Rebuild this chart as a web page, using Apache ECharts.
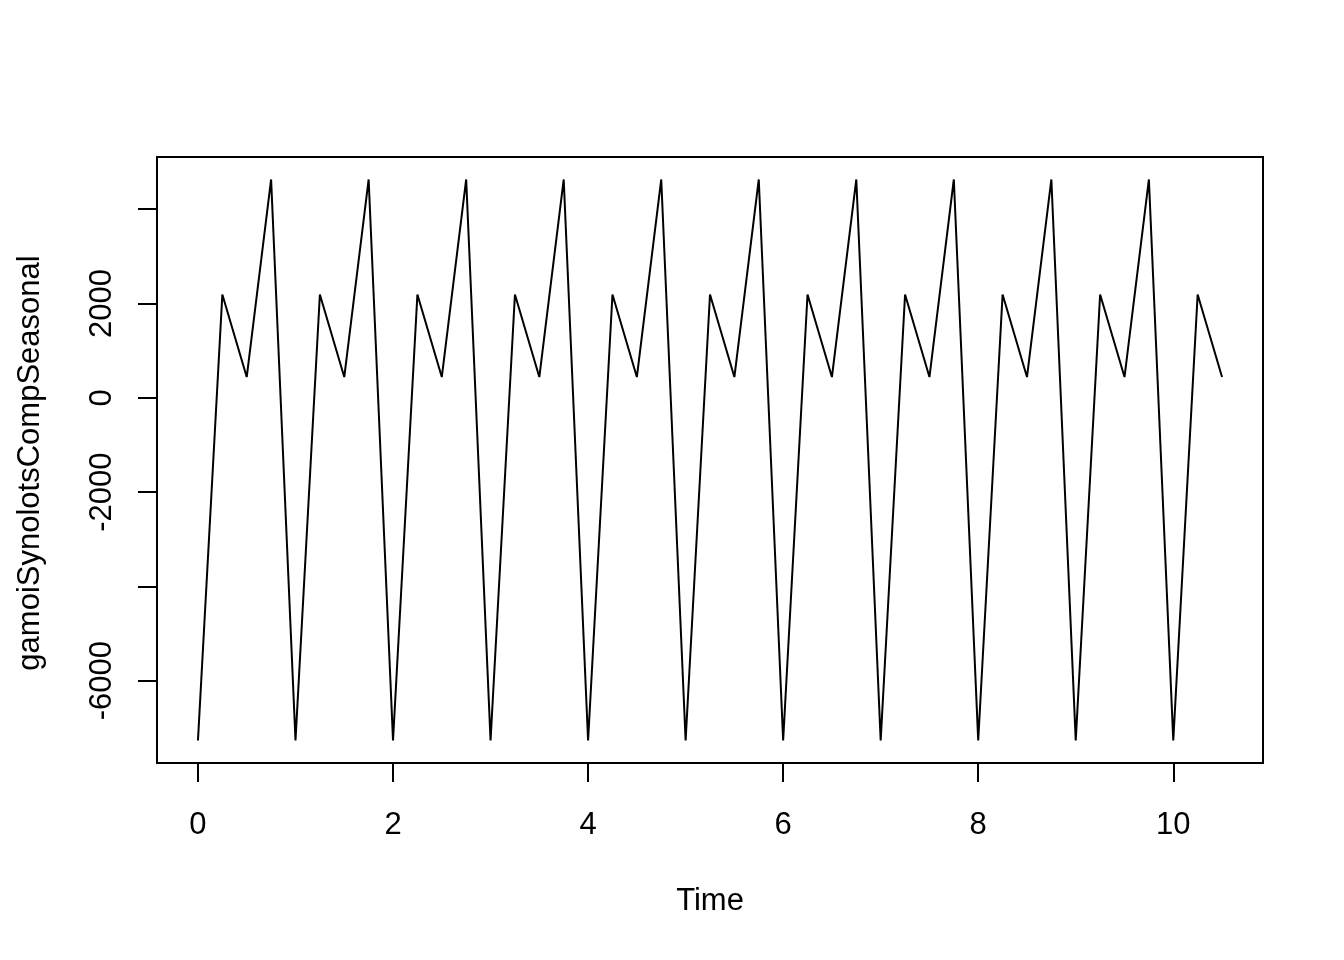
<!DOCTYPE html>
<html>
<head>
<meta charset="utf-8">
<script src="https://cdn.jsdelivr.net/npm/echarts@6/dist/echarts.min.js"></script>
<style>
html,body{margin:0;padding:0;background:#fff;}
#chart{width:1344px;height:960px;}
</style>
</head>
<body>
<div id="chart"></div>
<script>
// Time (quarterly, frequency 4)
const timeValues = [
  0, 0.25, 0.5, 0.75, 1, 1.25, 1.5, 1.75, 2, 2.25, 2.5, 2.75,
  3, 3.25, 3.5, 3.75, 4, 4.25, 4.5, 4.75, 5, 5.25, 5.5, 5.75,
  6, 6.25, 6.5, 6.75, 7, 7.25, 7.5, 7.75, 8, 8.25, 8.5, 8.75,
  9, 9.25, 9.5, 9.75, 10, 10.25, 10.5
];
// Seasonal component values
const seasonalValues = [
  -7270, 2190, 440, 4630, -7270, 2190, 440, 4630, -7270, 2190, 440, 4630,
  -7270, 2190, 440, 4630, -7270, 2190, 440, 4630, -7270, 2190, 440, 4630,
  -7270, 2190, 440, 4630, -7270, 2190, 440, 4630, -7270, 2190, 440, 4630,
  -7270, 2190, 440, 4630, -7270, 2190, 440
];
const xTicks = [0, 2, 4, 6, 8, 10];
const yTicks = [-6000, -4000, -2000, 0, 2000, 4000];
const yLabels = [-6000, -2000, 0, 2000];
const xTitle = 'Time';
const yTitle = 'gamoiSynolotsCompSeasonal';

const xMinD = Math.min(...timeValues), xMaxD = Math.max(...timeValues);
const yMinD = Math.min(...seasonalValues), yMaxD = Math.max(...seasonalValues);
const xPad = (xMaxD - xMinD) * 0.04, yPad = (yMaxD - yMinD) * 0.04;

const font = 'Liberation Sans, Arial, sans-serif';
const fs = 31;
const chart = echarts.init(document.getElementById('chart'), null, {renderer: 'canvas'});
chart.setOption({
  animation: false,
  backgroundColor: '#ffffff',
  grid: {left: 157, top: 157, width: 1106, height: 606, show: true,
         borderColor: '#000', borderWidth: 2, backgroundColor: 'transparent'},
  xAxis: {
    type: 'value', min: xMinD - xPad, max: xMaxD + xPad,
    axisLine: {show: false, onZero: false},
    splitLine: {show: false},
    axisTick: {show: true, inside: false, length: 19, customValues: xTicks,
               lineStyle: {color: '#000', width: 2}},
    axisLabel: {customValues: xTicks, color: '#000', fontSize: fs, fontFamily: font,
                margin: 47, formatter: v => String(v)}
  },
  yAxis: {
    type: 'value', min: yMinD - yPad, max: yMaxD + yPad,
    axisLine: {show: false, onZero: false},
    splitLine: {show: false},
    axisTick: {show: true, inside: false, length: 19, customValues: yTicks,
               lineStyle: {color: '#000', width: 2}},
    axisLabel: {customValues: yLabels, color: '#000', fontSize: fs, fontFamily: font,
                rotate: 90, align: 'center', verticalAlign: 'bottom', margin: 39,
                formatter: v => String(v)}
  },
  graphic: [
    {type: 'text', x: 710, y: 901,
     style: {text: xTitle, fill: '#000', font: fs + 'px ' + font, textAlign: 'center', textVerticalAlign: 'middle'}},
    {type: 'text', x: 30, y: 463, rotation: Math.PI / 2,
     style: {text: yTitle, fill: '#000', font: fs + 'px ' + font, textAlign: 'center', textVerticalAlign: 'middle'}}
  ],
  series: [{
    type: 'line',
    data: timeValues.map((t, i) => [t, seasonalValues[i]]),
    showSymbol: false,
    symbol: 'none',
    lineStyle: {color: '#000', width: 2},
    silent: true
  }]
});
</script>
</body>
</html>
